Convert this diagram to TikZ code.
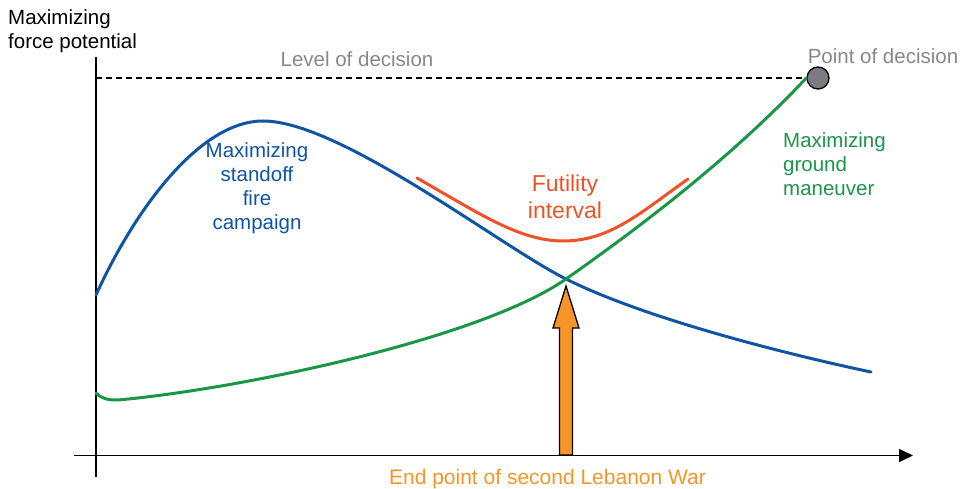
\documentclass[tikz,border=0pt]{standalone}
\usepackage{fontspec}
\setmainfont{Liberation Sans}
\usetikzlibrary{arrows.meta,calc}
\definecolor{firecol}{RGB}{16,84,164}
\definecolor{groundcol}{RGB}{26,150,72}
\definecolor{futilcol}{RGB}{240,82,40}
\definecolor{warcol}{RGB}{247,148,40}
\definecolor{levelcol}{RGB}{136,136,136}
\definecolor{pointcol}{RGB}{122,124,128}
\begin{document}
\begin{tikzpicture}[>={Triangle[length=14bp,width=13bp]},line join=bevel,
  every node/.style={inner sep=0pt,font=\fontsize{20.5bp}{24bp}\selectfont},
  axis/.style={line width=1.5bp,black},
  curve/.style={line width=3bp,line cap=round},
  warbody/.style={fill=warcol,draw=black,line width=1.3bp,line join=miter},
  decision/.style={circle,minimum size=22bp,fill=pointcol,draw=black,line width=1.3bp}]
  \useasboundingbox (0bp,0bp) rectangle (964bp,489bp);
%%
  % Node: Axes
  \coordinate (ytop) at (96bp,432bp);
  \coordinate (ybot) at (96bp,12bp);
  \coordinate (xleft) at (74bp,33.5bp);
  \coordinate (xright) at (913bp,33.5bp);
  \draw [axis] (ybot) -- (ytop);
  \draw [axis,->] (xleft) -- (xright);
  \node [anchor=north west,align=left] (ylabel) at (8bp,480bp) {Maximizing\\force potential};
  % Node: Decision
  \node [decision] (decision) at (818bp,411bp) {};
  \coordinate (levelstart) at (96bp,411bp);
  \draw [line width=1.3bp,dash pattern=on 6bp off 4bp] (levelstart) -- (decision);
  \node [anchor=base,text=levelcol] (level) at (357bp,422.3bp) {Level of decision};
  \node [anchor=base,text=levelcol] (point) at (883bp,425.7bp) {Point of decision};
  % Edge: End point -> Crossing
  \coordinate (warfoot) at (566bp,34bp);
  \coordinate (wartip) at (566bp,203bp);
  \filldraw [warbody] ($(warfoot)+(-6.5bp,0)$) -- ($(wartip)+(-6.5bp,-42bp)$)
    -- ($(wartip)+(-13bp,-42bp)$) -- (wartip) -- ($(wartip)+(13bp,-42bp)$)
    -- ($(wartip)+(6.5bp,-42bp)$) -- ($(warfoot)+(6.5bp,0)$) -- cycle;
  \node [anchor=base,text=warcol,font=\fontsize{21bp}{24bp}\selectfont] (warlabel) at (547.5bp,5bp) {End point of second Lebanon War};
  % Edge: Standoff fire
  \coordinate (firestart) at (96bp,194bp);
  \coordinate (firepeak) at (263bp,368bp);
  \coordinate (cross) at (566bp,210bp);
  \coordinate (fireend) at (871bp,117bp);
  \draw [curve,firecol] (firestart) .. controls (135bp,280bp) and (200bp,368bp) .. (firepeak)
    .. controls (340bp,368bp) and (500bp,243bp) .. (cross)
    .. controls (650bp,168bp) and (800bp,132bp) .. (fireend);
  \node [anchor=north,align=center,text=firecol] (firelabel) at (257bp,347bp) {Maximizing\\standoff\\fire\\campaign};
  % Edge: Ground maneuver
  \coordinate (groundstart) at (96bp,96bp);
  \coordinate (groundlow) at (118bp,89bp);
  \draw [curve,groundcol] (groundstart) .. controls (102bp,90bp) and (108bp,89bp) .. (groundlow)
    .. controls (240bp,100bp) and (480bp,150bp) .. (cross)
    .. controls (640bp,262bp) and (730bp,330bp) .. (decision.west);
  \node [anchor=north west,align=left,text=groundcol] (groundlabel) at (783bp,357bp) {Maximizing\\ground\\maneuver};
  % Edge: Futility interval
  \coordinate (futilstart) at (417bp,311bp);
  \coordinate (futillow) at (563bp,248bp);
  \coordinate (futilend) at (688bp,310bp);
  \draw [curve,futilcol] (futilstart) .. controls (480bp,275bp) and (520bp,248bp) .. (futillow)
    .. controls (610bp,248bp) and (640bp,276bp) .. (futilend);
  \node [anchor=north,align=center,text=futilcol,font=\fontsize{23bp}{26.5bp}\selectfont] (futillabel) at (565bp,314bp) {Futility\\interval};
%
\end{tikzpicture}
\end{document}
